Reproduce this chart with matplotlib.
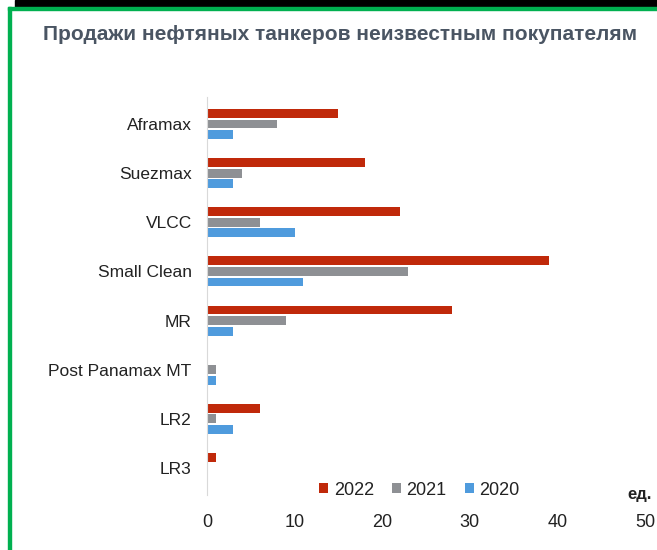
import matplotlib.pyplot as plt
from matplotlib.patches import Rectangle
import numpy as np

plt.rcParams['font.family'] = ['Liberation Sans', 'DejaVu Sans']

categories = ["Aframax", "Suezmax", "VLCC", "Small Clean", "MR",
              "Post Panamax MT", "LR2", "LR3"]
sales_2022 = [15, 18, 22, 39, 28, 0, 6, 1]
sales_2021 = [8, 4, 6, 23, 9, 1, 1, 0]
sales_2020 = [3, 3, 10, 11, 3, 1, 3, 0]
years = ["2022", "2021", "2020"]
colors = ["#C0290A", "#8E9094", "#4F9BDD"]

fig = plt.figure(figsize=(6.57, 5.5), dpi=100)

# frame of the screenshot
fig.patches.append(Rectangle((15 / 657, 1 - 7 / 550), 1, 7 / 550, transform=fig.transFigure,
                             color="black", zorder=0))
fig.patches.append(Rectangle((8 / 657, 1 - 10 / 550), 1, 3 / 550, transform=fig.transFigure,
                             color="#00B050", zorder=1))
fig.patches.append(Rectangle((8 / 657, 0), 3 / 657, 1 - 7 / 550, transform=fig.transFigure,
                             color="#00B050", zorder=1))

ax = fig.add_axes([207 / 657, 1 - 495 / 550, (645 - 207) / 657, (495 - 97) / 550])

y = np.arange(len(categories))
h = 0.18
step = 0.215
for i, (vals, yr, c) in enumerate(zip([sales_2022, sales_2021, sales_2020], years, colors)):
    ax.barh(y + (i - 1) * step, vals, height=h, color=c, label=yr)

ax.set_ylim(len(categories) - 0.45, -0.55)
ax.set_xlim(0, 50)
ax.set_xticks(range(0, 51, 10))
ax.set_yticks(y)
ax.set_yticklabels(categories)
ax.tick_params(axis="y", length=0, pad=11, labelsize=12.5, labelcolor="#222222")
ax.tick_params(axis="x", length=0, pad=14, labelsize=13, labelcolor="#222222")
for s in ["top", "right", "bottom"]:
    ax.spines[s].set_visible(False)
ax.spines["left"].set_color("#D9D9D9")

leg = ax.legend(loc="lower center", bbox_to_anchor=(0.485, -0.05), ncol=3, frameon=False,
                fontsize=13, handlelength=0.5, handleheight=0.5, handletextpad=0.3,
                columnspacing=1.0)
for t in leg.get_texts():
    t.set_color("#222222")

fig.text(640 / 657, 1 - 495 / 550, "ед.", ha="center", va="center", fontsize=12,
         fontweight="bold", color="#222222")
fig.text(340 / 657, 1 - 35 / 550, "Продажи нефтяных танкеров неизвестным покупателям",
         ha="center", va="center", fontsize=15, fontweight="bold", color="#4A5563")

fig.savefig("out.png", dpi=100)
